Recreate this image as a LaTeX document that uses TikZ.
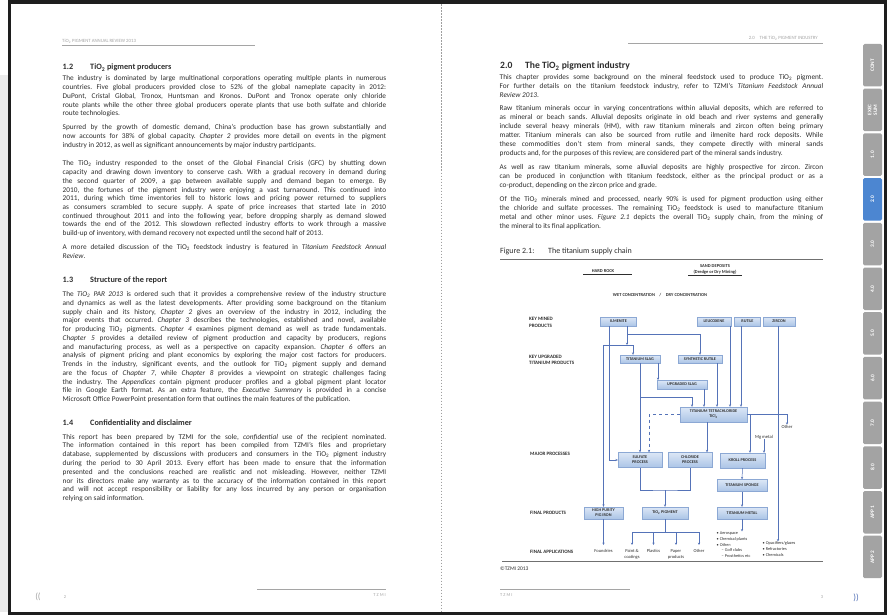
\documentclass[tikz,border=0pt]{standalone}
\usepackage{fontspec}
\setmainfont{Carlito}
\usepackage{graphicx}
\usetikzlibrary{arrows.meta}
\definecolor{bodyc}{HTML}{2E2E2E}
\definecolor{headc}{HTML}{A5A5A5}
\definecolor{conc}{HTML}{5573B8}
\definecolor{boxt}{HTML}{DCE7F6}
\definecolor{boxb}{HTML}{ABC4E6}
\definecolor{boxd}{HTML}{8CA8D4}
\definecolor{tabg}{HTML}{A3A3A3}
\definecolor{tabb}{HTML}{4C86D1}
\definecolor{framec}{HTML}{1E1E1E}
\definecolor{stripc}{HTML}{EBEBEB}
\definecolor{rulec}{HTML}{707070}
\frenchspacing
\newlength\tw \setlength\tw{323.5pt}
\newsavebox\jlbox
\newcommand\jl[1]{\sbox\jlbox{#1}\ifdim\wd\jlbox>\tw\resizebox{\tw}{\height}{\usebox\jlbox}\else\makebox[\tw][s]{#1}\fi}
\newcommand\tio{TiO\textsubscript{2}}
\newcounter{tl}
\newcommand\jline[3]{\stepcounter{tl}\node[body] (tl\arabic{tl}) at (#1,#2) {\jl{#3}};}
\newcommand\eline[3]{\stepcounter{tl}\node[body] (tl\arabic{tl}) at (#1,#2) {#3};}
\begin{document}
\begin{tikzpicture}[x=1pt,y=-1pt,
 body/.style={anchor=base west, inner sep=0, font=\fontsize{7.3}{8.5}\selectfont\frenchspacing, text=bodyc},
 hd/.style={anchor=base west, inner sep=0, font=\fontsize{8.2}{9}\selectfont\bfseries, text=bodyc},
 hdbig/.style={anchor=base west, inner sep=0, font=\fontsize{9.6}{11}\selectfont\bfseries, text=bodyc},
 hdr/.style={inner sep=0, font=\fontsize{4.8}{5}\selectfont, text=headc},
 lab/.style={anchor=west, inner sep=0, font=\fontsize{5}{6.4}\selectfont\bfseries, text=bodyc, align=left},
 tiny/.style={inner sep=0, font=\fontsize{4.5}{5.6}\selectfont\bfseries, text=bodyc, align=center},
 fbox/.style={rectangle, inner sep=0, minimum height=9, top color=boxt, bottom color=boxb, draw=boxd, line width=0.4, font=\fontsize{4.2}{5}\selectfont\bfseries, text=bodyc, align=center},
 app/.style={anchor=north, inner sep=0, font=\fontsize{4.5}{5.6}\selectfont, text=bodyc, align=center},
 lst/.style={anchor=north west, inner sep=0, font=\fontsize{4.3}{5.8}\selectfont, text=bodyc, align=left},
 con/.style={draw=conc, line width=0.5, -{Stealth[length=2.4pt,width=2.2pt]}},
 conl/.style={draw=conc, line width=0.5},
 tab/.style={rectangle, rounded corners=1.5, fill=tabg, minimum width=42.5, minimum height=19, inner sep=0, text=white, font=\fontsize{5.3}{5.8}\selectfont\bfseries, align=center, rotate=90},
 foot/.style={inner sep=0, font=\fontsize{4.5}{5}\selectfont, text=headc}
]
\useasboundingbox (0,0) rectangle (887,615);
\fill[white] (0,0) rectangle (887,615);
% frame and spread
\fill[stripc] (0,75) rectangle (8,612);
\fill[framec] (8,0) rectangle (887,4.5);
\fill[framec] (8,0) rectangle (11,615);
\fill[framec] (883.5,0) rectangle (887,615);
\fill[framec] (8,612) rectangle (887,615);
\draw[gray!75, line width=0.6, dash pattern=on 1.5pt off 1.5pt] (441,4.5) -- (441,612);

% ---------------- LEFT PAGE ----------------
\node[hdr, anchor=base west] (lhdr) at (62,43) {\tio{} PIGMENT ANNUAL REVIEW 2013};
\draw[headc, line width=0.5] (62,45.5) -- (255,45.5);

\node[hd] (h12n) at (62.5,70) {1.2};
\node[hd] (h12t) at (90,70) {\tio{} pigment producers};
\jline{62.5}{81}{The industry is dominated by large multinational corporations operating multiple plants in numerous}
\jline{62.5}{89.7}{countries. Five global producers provided close to 52\% of the global nameplate capacity in 2012:}
\jline{62.5}{98.4}{DuPont, Cristal Global, Tronox, Huntsman and Kronos. DuPont and Tronox operate only chloride}
\jline{62.5}{107.1}{route plants while the other three global producers operate plants that use both sulfate and chloride}
\eline{62.5}{115.8}{route technologies.}

\jline{62.5}{130}{Spurred by the growth of domestic demand, China's production base has grown substantially and}
\jline{62.5}{138.7}{now accounts for 38\% of global capacity. \textit{Chapter 2} provides more detail on events in the pigment}
\eline{62.5}{147.4}{industry in 2012, as well as significant announcements by major industry participants.}

\jline{62.5}{166}{The \tio{} industry responded to the onset of the Global Financial Crisis (GFC) by shutting down}
\jline{62.5}{174.7}{capacity and drawing down inventory to conserve cash. With a gradual recovery in demand during}
\jline{62.5}{183.4}{the second quarter of 2009, a gap between available supply and demand began to emerge. By}
\jline{62.5}{192.1}{2010, the fortunes of the pigment industry were enjoying a vast turnaround. This continued into}
\jline{62.5}{200.8}{2011, during which time inventories fell to historic lows and pricing power returned to suppliers}
\jline{62.5}{209.5}{as consumers scrambled to secure supply. A spate of price increases that started late in 2010}
\jline{62.5}{218.2}{continued throughout 2011 and into the following year, before dropping sharply as demand slowed}
\jline{62.5}{226.9}{towards the end of the 2012. This slowdown reflected industry efforts to work through a massive}
\eline{62.5}{235.6}{build-up of inventory, with demand recovery not expected until the second half of 2013.}

\jline{62.5}{250}{A more detailed discussion of the \tio{} feedstock industry is featured in \textit{Titanium Feedstock Annual}}
\eline{62.5}{258.7}{\textit{Review}.}

\node[hd] (h13n) at (62.5,282.5) {1.3};
\node[hd] (h13t) at (90,282.5) {Structure of the report};
\jline{62.5}{296.5}{The \textit{\tio{} PAR 2013} is ordered such that it provides a comprehensive review of the industry structure}
\jline{62.5}{305.25}{and dynamics as well as the latest developments. After providing some background on the titanium}
\jline{62.5}{314}{supply chain and its history, \textit{Chapter 2} gives an overview of the industry in 2012, including the}
\jline{62.5}{322.75}{major events that occurred. \textit{Chapter 3} describes the technologies, established and novel, available}
\jline{62.5}{331.5}{for producing \tio{} pigments. \textit{Chapter 4} examines pigment demand as well as trade fundamentals.}
\jline{62.5}{340.25}{\textit{Chapter 5} provides a detailed review of pigment production and capacity by producers, regions}
\jline{62.5}{349}{and manufacturing process, as well as a perspective on capacity expansion. \textit{Chapter 6} offers an}
\jline{62.5}{357.75}{analysis of pigment pricing and plant economics by exploring the major cost factors for producers.}
\jline{62.5}{366.5}{Trends in the industry, significant events, and the outlook for \tio{} pigment supply and demand}
\jline{62.5}{375.25}{are the focus of \textit{Chapter 7}, while \textit{Chapter 8} provides a viewpoint on strategic challenges facing}
\jline{62.5}{384}{the industry. The \textit{Appendices} contain pigment producer profiles and a global pigment plant locator}
\jline{62.5}{392.75}{file in Google Earth format. As an extra feature, the \textit{Executive Summary} is provided in a concise}
\eline{62.5}{401.5}{Microsoft Office PowerPoint presentation form that outlines the main features of the publication.}

\node[hd] (h14n) at (62.5,425) {1.4};
\node[hd] (h14t) at (90,425) {Confidentiality and disclaimer};
\jline{62.5}{439}{This report has been prepared by TZMI for the sole, \textit{confidential} use of the recipient nominated.}
\jline{62.5}{447.8}{The information contained in this report has been compiled from TZMI's files and proprietary}
\jline{62.5}{456.6}{database, supplemented by discussions with producers and consumers in the \tio{} pigment industry}
\jline{62.5}{465.4}{during the period to 30 April 2013. Every effort has been made to ensure that the information}
\jline{62.5}{474.2}{presented and the conclusions reached are realistic and not misleading. However, neither TZMI}
\jline{62.5}{483}{nor its directors make any warranty as to the accuracy of the information contained in this report}
\jline{62.5}{491.8}{and will not accept responsibility or liability for any loss incurred by any person or organisation}
\eline{62.5}{500.6}{relying on said information.}

\node[inner sep=0, font=\fontsize{9}{9}\selectfont, text=headc] (lq) at (38,597) {((};
\node[foot] (lpn) at (65,597.5) {2};
\draw[headc, line width=0.5] (257,589) -- (386,589);
\node[foot, anchor=east] (ltz) at (386,595) {T Z M I};

% ---------------- RIGHT PAGE ----------------
\node[hdr, anchor=base east] (rhdr) at (818,40) {2.0\quad THE \tio{} PIGMENT INDUSTRY};
\draw[headc, line width=0.5] (628,43.5) -- (823,43.5);

\node[hdbig] (h20n) at (500,69) {2.0};
\node[hdbig] (h20t) at (525,69) {The \tio{} pigment industry};
\jline{499.5}{79.5}{This chapter provides some background on the mineral feedstock used to produce \tio{} pigment.}
\jline{499.5}{88.5}{For further details on the titanium feedstock industry, refer to TZMI's \textit{Titanium Feedstock Annual}}
\eline{499.5}{97.5}{\textit{Review 2013}.}
\jline{499.5}{111}{Raw titanium minerals occur in varying concentrations within alluvial deposits, which are referred to}
\jline{499.5}{120}{as mineral or beach sands. Alluvial deposits originate in old beach and river systems and generally}
\jline{499.5}{129}{include several heavy minerals (HM), with raw titanium minerals and zircon often being primary}
\jline{499.5}{138}{matter. Titanium minerals can also be sourced from rutile and ilmenite hard rock deposits. While}
\jline{499.5}{147}{these commodities don't stem from mineral sands, they compete directly with mineral sands}
\eline{499.5}{156}{products and, for the purposes of this review, are considered part of the mineral sands industry.}
\jline{499.5}{170}{As well as raw titanium minerals, some alluvial deposits are highly prospective for zircon. Zircon}
\jline{499.5}{179}{can be produced in conjunction with titanium feedstock, either as the principal product or as a}
\eline{499.5}{188}{co-product, depending on the zircon price and grade.}
\jline{499.5}{202}{Of the \tio{} minerals mined and processed, nearly 90\% is used for pigment production using either}
\jline{499.5}{211}{the chloride and sulfate processes. The remaining \tio{} feedstock is used to manufacture titanium}
\jline{499.5}{220}{metal and other minor uses. \textit{Figure 2.1} depicts the overall \tio{} supply chain, from the mining of}
\eline{499.5}{229}{the mineral to its final application.}

\node[anchor=base west, inner sep=0, font=\fontsize{8}{9}\selectfont, text=bodyc] (fign) at (500,253) {Figure 2.1:};
\node[anchor=base west, inner sep=0, font=\fontsize{8}{9}\selectfont, text=bodyc] (figt) at (548,253) {The titanium supply chain};
\draw[rulec, line width=1] (500,259.5) -- (823,259.5);

% figure top texts
\node[tiny] (hrock) at (603,271) {HARD ROCK};
\draw[bodyc, line width=0.6] (583,274.5) -- (632,274.5);
\node[tiny] (sand) at (715,266) {SAND DEPOSITS};
\node[tiny] (dredge) at (715,272) {(Dredge or Dry Mining)};
\draw[bodyc, line width=0.6] (688,275) -- (742,275);
\node[tiny] (wet) at (660,295) {WET CONCENTRATION\quad/\quad DRY CONCENTRATION};

% row labels
\node[lab] (rl1) at (529,322.5) {KEY MINED\\PRODUCTS};
\node[lab] (rl2) at (529,360) {KEY UPGRADED\\TITANIUM PRODUCTS};
\node[lab] (rl3) at (530,454) {MAJOR PROCESSES};
\node[lab] (rl4) at (530,513) {FINAL PRODUCTS};
\node[lab] (rl5) at (530,552) {FINAL APPLICATIONS};

% boxes
\node[fbox, minimum width=36] (ilm) at (618.5,321.5) {ILMENITE};
\node[fbox, minimum width=34] (leu) at (714,321.5) {LEUCOXENE};
\node[fbox, minimum width=26] (rut) at (747.5,321.5) {RUTILE};
\node[fbox, minimum width=32] (zir) at (779,321.5) {ZIRCON};
\node[fbox, minimum width=40, minimum height=8] (slag) at (640,359) {TITANIUM SLAG};
\node[fbox, minimum width=44, minimum height=8] (syn) at (700,359) {SYNTHETIC RUTILE};
\node[fbox, minimum width=50, minimum height=8.5] (upg) at (682,384.5) {UPGRADED SLAG};
\node[fbox, minimum width=67, minimum height=15] (ticl) at (713.5,414.5) {TITANIUM TETRACHLORIDE\\TiCl\textsubscript{4}};
\node[fbox, minimum width=44, minimum height=15] (sulf) at (640,460) {SULFATE\\PROCESS};
\node[fbox, minimum width=44, minimum height=15] (chl) at (690,460) {CHLORIDE\\PROCESS};
\node[fbox, minimum width=45, minimum height=15] (kroll) at (742.5,460.5) {KROLL PROCESS};
\node[fbox, minimum width=50, minimum height=12] (spg) at (742,485.5) {TITANIUM SPONGE};
\node[fbox, minimum width=39, minimum height=12] (pig) at (603.5,513) {HIGH PURITY\\PIG IRON};
\node[fbox, minimum width=46, minimum height=12] (tio) at (665,513) {TiO\textsubscript{2} PIGMENT};
\node[fbox, minimum width=50, minimum height=12] (tim) at (742,513) {TITANIUM METAL};

% small labels
\node[inner sep=0, font=\fontsize{4.6}{5}\selectfont, text=bodyc] (othr) at (787,426.5) {Other};
\node[inner sep=0, font=\fontsize{4.6}{5}\selectfont, text=bodyc] (mg) at (764,437) {Mg metal};

% applications
\node[app] (found) at (603.5,549.5) {Foundries};
\node[app] (paint) at (632,549.5) {Paint \&\\coatings};
\node[app] (plast) at (653.5,549.5) {Plastics};
\node[app] (paper) at (676,549.5) {Paper\\products};
\node[app] (oth2) at (699,549.5) {Other};
\node[lst] (tlist) at (716.5,531.5) {\textbullet\ Aerospace\\\textbullet\ Chemical plants\\\textbullet\ Other:\\\hspace{5pt}-- Golf clubs\\\hspace{5pt}-- Prosthetics etc};
\node[lst] (zlist) at (762.5,541.5) {\textbullet\ Opacifiers/glazes\\\textbullet\ Refractories\\\textbullet\ Chemicals};

% helper coordinates
\coordinate (jA) at (627,334);
\coordinate (jB) at (627,345);
\coordinate (jL) at (603.5,345);
\coordinate (jR) at (633,345);
\coordinate (xS) at (609,0);
\coordinate (jC) at (640,397);
\coordinate (xU) at (658,0);
\coordinate (x692) at (692,0);
\coordinate (x704) at (704,0);
\coordinate (x717) at (717,0);
\coordinate (x730) at (730,0);
\coordinate (x741) at (741,0);
\coordinate (x778) at (778,0);
\coordinate (x649) at (649,0);
\coordinate (x707) at (707,0);
\coordinate (jK) at (750,414.5);
\coordinate (jT) at (665,490);
\coordinate (jP) at (665,532);

% connectors
\draw[conl] (ilm.south -| jA) -- (jA);
\draw[con] (jA) -- (jB);
\draw[conl] (jL) -- (jR);
\draw[con] (jA) -| (syn.north);
\draw[con] (jR) -- (slag.north -| jR);
\draw[con] (jL) -- (pig.north);
\draw[con] (ilm.south -| xS) |- (sulf.west);
\draw[con] (slag.south) -- (sulf.north);
\draw[con] (jC) -| (ticl.north -| x692);
\draw[con] (slag.south -| xU) -- (upg.north -| xU);
\draw[con] (upg.south -| x704) -- (ticl.north -| x704);
\draw[con] (syn.south -| x717) -- (ticl.north -| x717);
\draw[con] (leu.south -| x730) -- (ticl.north -| x730);
\draw[con] (rut.south -| x741) -- (ticl.north -| x741);
\draw[con] (zir.south -| x778) -- (x778 |- zlist.north);
\draw[con, dashed] (ticl.west) -| (sulf.north -| x649);
\draw[con] (ticl.south -| x707) -- (chl.north -| x707);
\draw[con] (ticl.east) -| (othr.north);
\draw[con] (jK) -- (kroll.north -| jK);
\draw[con] (mg.south) -- (kroll.north -| mg.south);
\draw[conl] (sulf.south) |- (jT) -| (chl.south);
\draw[con] (jT) -- (tio.north);
\draw[con] (kroll.south) -- (spg.north);
\draw[con] (spg.south) -- (tim.north);
\draw[conl] (tio.south) -- (jP);
\draw[conl] (paint.north |- jP) -- (oth2.north |- jP);
\draw[con, shorten >=4.5pt] (paint.north |- jP) -- (paint.north);
\draw[con, shorten >=4.5pt] (plast.north |- jP) -- (plast.north);
\draw[con, shorten >=4.5pt] (paper.north |- jP) -- (paper.north);
\draw[con, shorten >=4.5pt] (oth2.north |- jP) -- (oth2.north);
\draw[con] (tim.south) -- (tim.south |- tlist.north);
\draw[con, shorten >=4.5pt] (pig.south) -- (found.north);

\draw[rulec, line width=1] (502,561) -- (823,561);
\node[anchor=base west, inner sep=0, font=\fontsize{5.5}{6}\selectfont, text=bodyc] (copy) at (500,570) {\textcopyright TZMI 2013};

% right footer
\draw[headc, line width=0.5] (500,589) -- (630,589);
\node[foot, anchor=west] (rtz) at (500,595.5) {T Z M I};
\node[foot] (rpn) at (822,597.5) {3};
\node[inner sep=0, font=\fontsize{9}{9}\selectfont, text=conc] (rq) at (856,598) {))};

% tabs
\foreach \i/\lab in {0/CONT,1/{EXEC\\SUM},2/1.0,4/3.0,5/4.0,6/5.0,7/6.0,8/7.0,9/8.0,10/APP 1,11/APP 2}{
  \node[tab] (tab\i) at (872.5,44+44.7*\i+21.25) {\lab};
}
\node[tab, fill=tabb] (tab3) at (872.5,44+44.7*3+21.25) {2.0};
\end{tikzpicture}
\end{document}
